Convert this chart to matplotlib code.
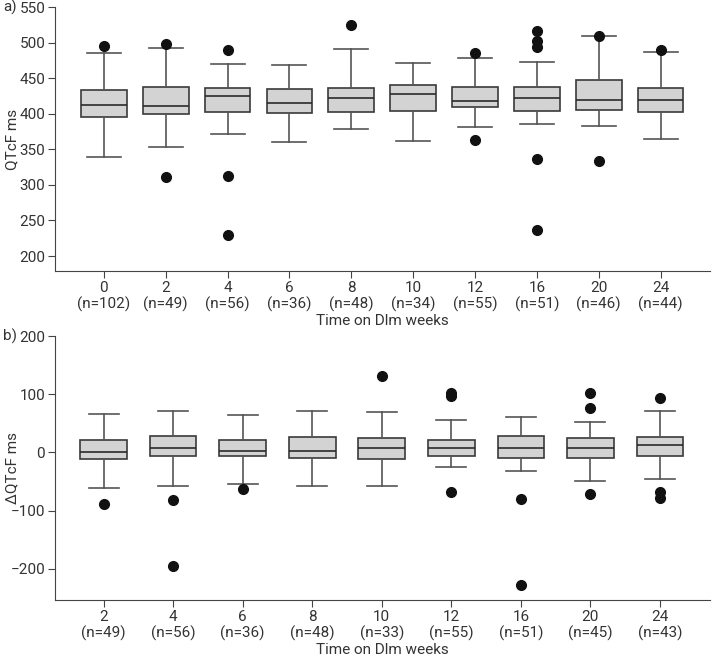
import matplotlib
matplotlib.use('Agg')
import matplotlib.pyplot as plt

plt.rcParams['font.family'] = ['Roboto', 'DejaVu Sans']
plt.rcParams['font.size'] = 11
plt.rcParams['text.color'] = '#333333'
plt.rcParams['axes.labelcolor'] = '#333333'
plt.rcParams['xtick.color'] = '#333333'
plt.rcParams['ytick.color'] = '#333333'

# panel a: QTcF by week
weeks_a = ['0', '2', '4', '6', '8', '10', '12', '16', '20', '24']
n_a = [102, 49, 56, 36, 48, 34, 55, 51, 46, 44]
lo_a = [339, 353, 372, 361, 378, 362, 382, 386, 383, 365]
q1_a = [396, 399, 402, 401, 402, 404, 409, 404, 406, 402]
med_a = [413, 411, 425, 415, 422, 428, 418, 422, 420, 420]
q3_a = [434, 437, 436, 435, 436, 441, 438, 438, 447, 436]
hi_a = [486, 492, 470, 469, 491, 471, 478, 473, 509, 487]
fl_a = [[496], [498, 311], [490, 312, 230], [], [525], [], [485, 363],
        [517, 502, 494, 337, 236], [510, 334], [489]]

# panel b: change in QTcF from baseline
weeks_b = ['2', '4', '6', '8', '10', '12', '16', '20', '24']
n_b = [49, 56, 36, 48, 33, 55, 51, 45, 43]
lo_b = [-62, -57, -54, -57, -57, -26, -32, -49, -46]
q1_b = [-12, -7, -7, -10, -12, -6, -9, -9, -6]
med_b = [0, 7, 3, 3, 7, 7, 7, 7, 12]
q3_b = [21, 29, 22, 26, 24, 22, 29, 24, 27]
hi_b = [66, 71, 65, 71, 69, 55, 61, 53, 71]
fl_b = [[-89], [-82, -196], [-63], [], [131], [103, 97, -68], [-81, -228],
        [103, 77, -71], [94, -68, -78]]


def draw(ax, weeks, ns, lo, q1, med, q3, hi, fl, width, capw):
    stats = []
    for i in range(len(weeks)):
        stats.append({'whislo': lo[i], 'q1': q1[i], 'med': med[i], 'q3': q3[i],
                      'whishi': hi[i], 'fliers': fl[i]})
    ax.bxp(stats, positions=range(len(weeks)), widths=width, capwidths=capw,
           patch_artist=True, showfliers=True,
           boxprops=dict(facecolor='#d3d3d3', edgecolor='#3a3a3a', linewidth=1.2),
           medianprops=dict(color='#2a2a2a', linewidth=1.2),
           whiskerprops=dict(color='#555555', linewidth=1.2),
           capprops=dict(color='#555555', linewidth=1.2),
           flierprops=dict(marker='o', markerfacecolor='#111111',
                           markeredgecolor='#111111', markersize=7))
    ax.set_xticks(range(len(weeks)))
    ax.set_xticklabels([w + '\n(n=' + str(n) + ')' for w, n in zip(weeks, ns)],
                       linespacing=1.2)
    ax.spines['top'].set_visible(False)
    ax.spines['right'].set_visible(False)
    ax.spines['left'].set_color('#444444')
    ax.spines['bottom'].set_color('#444444')
    ax.tick_params(length=5, color='#444444', pad=2)
    ax.set_xlabel('Time on Dlm weeks', labelpad=1)
    ax.yaxis.set_label_coords(-0.054, 0.5)


fig = plt.figure(figsize=(7.12, 6.63), dpi=100)
ax1 = fig.add_axes([0.0772, 0.5913, 0.92, 0.398])
ax2 = fig.add_axes([0.0772, 0.095, 0.92, 0.398])

draw(ax1, weeks_a, n_a, lo_a, q1_a, med_a, q3_a, hi_a, fl_a, 0.74, 0.55)
ax1.set_xlim(-0.79, 9.8)
ax1.set_ylim(179, 550)
ax1.set_yticks(range(200, 551, 50))
ax1.set_ylabel('QTcF ms')

draw(ax2, weeks_b, n_b, lo_b, q1_b, med_b, q3_b, hi_b, fl_b, 0.67, 0.43)
ax2.set_xlim(-0.7, 8.72)
ax2.set_ylim(-254, 200)
ax2.set_yticks([-200, -100, 0, 100, 200])
ax2.set_ylabel('ΔQTcF ms')

fig.text(0.004, 0.989, 'a)', va='center', ha='left')
fig.text(0.004, 0.4932, 'b)', va='center', ha='left')

fig.savefig('out.png', dpi=100)
